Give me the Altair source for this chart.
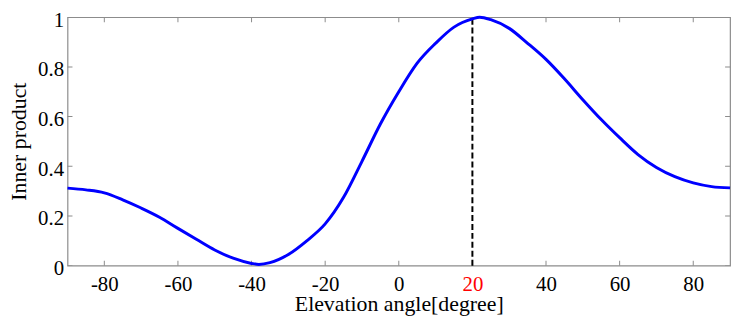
import altair as alt
import pandas as pd

# Curve
angle = [-90, -85, -80, -75, -70, -65, -60, -55, -50, -45, -40, -38, -35, -30, -25,
         -20, -15, -10, -5, 0, 5, 10, 15, 20, 22, 25, 30, 35, 40, 45, 50, 55, 60,
         65, 70, 75, 80, 85, 90]
inner = [0.312, 0.305, 0.293, 0.265, 0.232, 0.195, 0.150, 0.106, 0.063, 0.030, 0.009,
         0.005, 0.012, 0.045, 0.100, 0.168, 0.275, 0.420, 0.570, 0.700, 0.815, 0.895,
         0.960, 0.993, 1.000, 0.990, 0.955, 0.895, 0.830, 0.752, 0.668, 0.588, 0.515,
         0.447, 0.395, 0.358, 0.333, 0.318, 0.313]

marker_x = [20]
marker_y0 = [0]
marker_y1 = [1]

x_ticks = [-80, -60, -40, -20, 0, 20, 40, 60, 80]
y_ticks = [0, 0.2, 0.4, 0.6, 0.8, 1]
x_limits = [-90, 90]
y_limits = [0, 1]

FONT = "Liberation Serif"
GRAY = "#8c8c8c"

df = pd.DataFrame({"angle": angle, "inner": inner})
dm = pd.DataFrame({"angle": marker_x, "inner": marker_y0, "inner2": marker_y1})
dtx = pd.DataFrame({"angle": x_ticks})
dty = pd.DataFrame({"inner": y_ticks})

xs = alt.Scale(domain=x_limits, nice=False, zero=False)
ys = alt.Scale(domain=y_limits, nice=False, zero=False)

main_x = alt.Axis(orient="bottom", values=x_ticks, domain=False,
                  ticks=False, tickSize=0, grid=False,
                  labelExpr="'' + datum.value", labelFont=FONT, labelFontSize=21,
                  labelPadding=8,
                  labelColor={"condition": {"test": "datum.value == 20", "value": "#ff0000"},
                              "value": "#000000"},
                  title="Elevation angle[degree]", titleFont=FONT, titleFontSize=22,
                  titleFontWeight="normal", titleColor="#000000",
                  titleX=334, titleY=45.7, titleBaseline="alphabetic")
main_y = alt.Axis(orient="left", values=y_ticks, domain=False,
                  ticks=False, tickSize=0, grid=False,
                  labelExpr="'' + datum.value", labelFont=FONT, labelFontSize=21,
                  labelPadding=4, labelOffset=3, labelColor="#000000",
                  title="Inner product", titleFont=FONT, titleFontSize=22,
                  titleFontWeight="normal", titleColor="#000000",
                  titleAngle=270, titleX=-42, titleY=125, titleAlign="center",
                  titleBaseline="alphabetic")

X = lambda f: alt.X(f, scale=xs, axis=main_x)
Y = lambda f: alt.Y(f, scale=ys, axis=main_y)

curve = alt.Chart(df).mark_line(color="#0000ff", strokeWidth=3, interpolate="monotone").encode(
    x=X("angle:Q"), y=Y("inner:Q"),
)

dash = alt.Chart(dm).mark_rule(color="#000000", strokeWidth=2, strokeDash=[6, 3]).encode(
    x=X("angle:Q"), y=Y("inner:Q"), y2="inner2:Q",
)

tick_style = dict(color=GRAY, size=10, thickness=1, clip=True, opacity=1)

ticks_bottom = alt.Chart(dtx).mark_tick(orient="vertical", **tick_style).encode(
    x=X("angle:Q"), y=alt.Y(datum=y_limits[0], scale=ys, axis=main_y))
ticks_top = alt.Chart(dtx).mark_tick(orient="vertical", **tick_style).encode(
    x=X("angle:Q"), y=alt.Y(datum=y_limits[1], scale=ys, axis=main_y))
ticks_left = alt.Chart(dty).mark_tick(orient="horizontal", **tick_style).encode(
    y=Y("inner:Q"), x=alt.X(datum=x_limits[0], scale=xs, axis=main_x))
ticks_right = alt.Chart(dty).mark_tick(orient="horizontal", **tick_style).encode(
    y=Y("inner:Q"), x=alt.X(datum=x_limits[1], scale=xs, axis=main_x))

chart = alt.layer(ticks_bottom, ticks_top, ticks_left, ticks_right, dash, curve).properties(
    width=668, height=250.5,
    padding={"left": 0, "top": 0, "right": 0, "bottom": 0},
).configure_view(stroke=GRAY, strokeWidth=1.2)

chart.save("out.html", embed_options={"renderer": "svg", "actions": False})
